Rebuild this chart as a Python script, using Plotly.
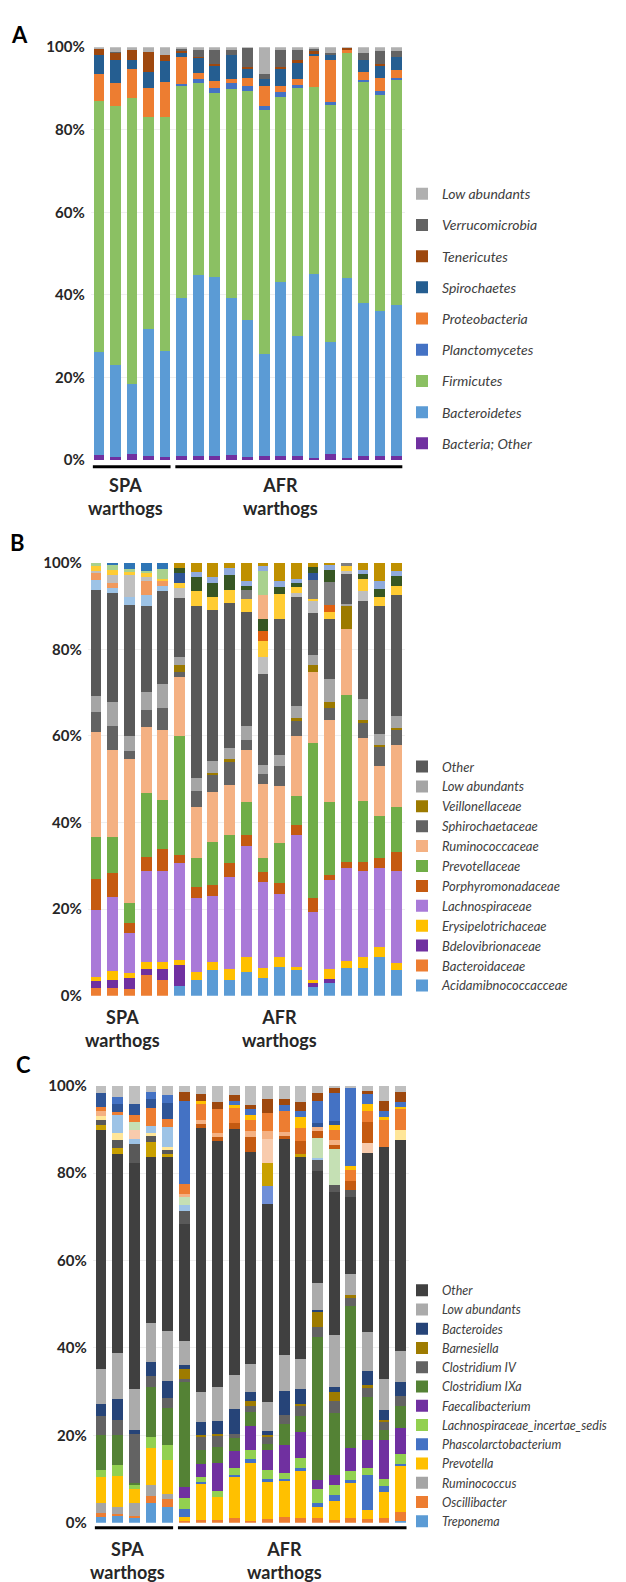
import plotly.graph_objects as go

W, H = 626, 1582

SAMPLES = ["SPA1", "SPA2", "SPA3", "SPA4", "SPA5",
           "AFR1", "AFR2", "AFR3", "AFR4", "AFR5", "AFR6", "AFR7",
           "AFR8", "AFR9", "AFR10", "AFR11", "AFR12", "AFR13", "AFR14"]

# ---------------- Panel A: phyla (%) ----------------
A_BACTERIA_OTHER = [1.3, 0.8, 1.5, 1.0, 0.8, 1.0, 0.9, 0.9, 1.2, 0.7, 0.9, 0.9, 0.9, 0.5, 1.5, 0.4, 1.0, 1.0, 1.0]
A_BACTEROIDETES = [24.8, 22.1, 17.0, 30.7, 25.6, 38.2, 43.8, 43.3, 38.0, 33.3, 24.8, 42.1, 29.1, 44.5, 27.1, 43.7, 37.0, 35.0, 36.6]
A_FIRMICUTES = [60.9, 62.9, 69.3, 51.3, 56.8, 51.4, 46.5, 44.8, 50.6, 55.4, 59.0, 45.0, 60.2, 45.4, 57.3, 54.5, 53.5, 52.5, 54.4]
A_PLANCTOMYCETES = [0, 0, 0, 0, 0, 0.4, 1.2, 1.2, 1.4, 1.2, 1.1, 1.1, 0.7, 0, 0.7, 0, 0.5, 1.0, 0.5]
A_PROTEOBACTERIA = [6.6, 5.6, 7.0, 7.2, 8.3, 6.6, 1.4, 1.6, 1.0, 2.0, 4.8, 1.5, 1.5, 7.6, 10.2, 0.8, 2.0, 3.0, 2.0]
A_SPIROCHAETES = [4.6, 5.6, 2.0, 3.8, 5.1, 1.0, 3.6, 3.6, 5.8, 2.2, 1.8, 4.2, 3.8, 0.3, 1.4, 0, 3.0, 3.0, 3.0]
A_TENERICUTES = [1.3, 1.6, 2.4, 4.8, 1.4, 0.6, 0.3, 0.5, 0, 0.3, 0, 0.3, 0.6, 0.7, 0, 0.4, 0, 0.5, 0]
A_VERRUCOMICROBIA = [0, 0.2, 0, 0, 0, 0.3, 1.7, 3.5, 1.4, 4.7, 1.0, 4.3, 2.6, 0.6, 0.3, 0, 1.5, 3.0, 1.5]
A_LOW_ABUNDANTS = [0.5, 1.2, 0.8, 1.2, 2.0, 0.5, 0.6, 0.6, 0.6, 0.2, 6.6, 0.6, 0.6, 0.4, 1.5, 0.2, 1.5, 1.0, 1.0]

# ---------------- Panel B: families (%) ----------------
B_ACIDAMINO = [0, 0, 0, 0, 0, 2.2, 3.6, 6.0, 3.6, 5.5, 4.0, 6.6, 6.0, 2.1, 3.0, 6.5, 6.5, 8.9, 6.0]
B_BACTEROIDACEAE = [1.7, 1.9, 1.5, 4.9, 3.7, 0, 0, 0, 0, 0, 0, 0, 0, 0, 0, 0, 0, 0, 0]
B_BDELOVIBRIONACEAE = [1.6, 1.7, 2.5, 1.3, 2.5, 5.0, 0, 0, 0, 0, 0, 0, 0, 1.1, 0.9, 0, 0, 0, 0]
B_ERYSIPELOTRICHACEAE = [1.0, 2.1, 1.3, 1.7, 1.6, 1.1, 1.9, 1.8, 2.6, 3.4, 2.4, 2.3, 0.6, 0.4, 2.3, 1.5, 2.4, 2.3, 1.5]
B_LACHNOSPIRACEAE = [15.4, 17.1, 9.1, 20.8, 20.9, 22.3, 17.1, 15.2, 21.3, 25.7, 19.9, 14.5, 30.5, 15.8, 20.6, 21.5, 19.9, 18.3, 21.3]
B_PORPHYROMONADACEAE = [7.3, 5.5, 2.5, 3.4, 5.3, 2.0, 2.4, 2.6, 3.1, 2.5, 2.2, 2.6, 2.4, 3.2, 1.1, 1.5, 2.2, 2.2, 4.5]
B_PREVOTELLACEAE = [9.7, 8.4, 4.6, 14.7, 11.2, 27.4, 6.9, 9.8, 6.6, 7.6, 3.4, 9.2, 6.7, 35.8, 16.8, 38.4, 14.0, 9.9, 10.2]
B_RUMINOCOCCACEAE = [24.3, 20.1, 33.2, 15.2, 16.2, 13.6, 11.6, 11.6, 11.4, 12.1, 17.0, 13.3, 13.7, 16.3, 19.0, 15.2, 14.5, 11.4, 14.5]
B_SPHIROCHAETACEAE = [4.6, 5.5, 1.8, 4.0, 5.0, 1.1, 3.8, 4.0, 5.4, 2.3, 2.2, 4.5, 3.8, 0, 2.7, 0, 3.4, 4.6, 3.3]
B_VEILLONELLACEAE = [0, 0, 0, 0, 0, 1.6, 0, 0.5, 0.6, 0, 0, 0, 0.4, 1.6, 1.5, 5.4, 0.8, 0.3, 0.5]
B_LOW_ABUNDANTS = [3.7, 5.6, 3.4, 4.2, 5.5, 1.9, 3.1, 2.7, 2.6, 3.1, 2.3, 2.7, 2.8, 2.5, 5.3, 0.5, 4.9, 2.6, 2.7]
B_OTHER = [24.5, 25.1, 30.3, 19.8, 21.6, 13.7, 39.6, 34.8, 33.5, 26.5, 21.0, 31.2, 25.1, 9.6, 13.7, 6.8, 22.5, 29.5, 28.1]
# minor (unlabelled) families stacked above "Other"
B_MINOR_SKY = [2.2, 1.2, 2.0, 2.6, 1.2, 0, 0, 0, 0, 0, 0, 0, 0, 0, 0, 0, 0, 0, 0]
B_MINOR_ORANGE = [1.6, 1.1, 0, 3.2, 1.0, 0, 0, 0, 0, 0, 0, 0, 0, 0, 0, 0, 0, 0, 0]
B_MINOR_LTGRAY = [0.5, 1.9, 5.0, 0.8, 0, 2.2, 0, 0, 0, 0, 3.8, 0, 1.1, 2.7, 0, 0.9, 2.4, 0, 0]
B_MINOR_YELLOW = [1.1, 1.1, 0.6, 1.0, 0.5, 1.2, 3.4, 3.2, 3.1, 3.0, 3.7, 5.9, 1.4, 0.6, 1.8, 1.0, 2.8, 2.2, 2.1]
B_MINOR_DKORANGE = [0, 0, 0, 0, 0, 0, 0, 0, 0, 0, 2.3, 0, 0, 0, 1.5, 0, 0, 0, 0]
B_MINOR_GRAY = [0, 0, 0, 0, 0, 0, 0, 0, 0, 2.1, 0, 0, 0, 4.3, 5.3, 0.8, 0, 0, 0]
B_MINOR_NAVY = [0, 0, 0, 0, 0, 2.3, 0, 0, 0, 0, 0, 0, 0, 1.6, 0, 0, 0, 0, 0]
B_MINOR_DKGREEN = [0, 0, 0, 0, 0, 1.1, 3.4, 3.1, 3.4, 0.9, 2.7, 1.7, 0.8, 1.3, 2.8, 0, 1.1, 1.8, 2.3]
B_MINOR_PEACH = [0, 0, 0, 0, 0, 0, 0, 0, 0, 0, 5.7, 0, 0, 0, 0, 0, 0, 0, 0]
B_MINOR_LTGREEN = [0.8, 1.2, 0.8, 0.6, 2.3, 0, 0, 0, 0, 0, 5.5, 0, 0, 0, 0, 0, 0, 0, 0]
B_MINOR_LTBLUE = [0, 0, 0, 0, 0, 0, 1.1, 1.5, 1.5, 1.0, 1.2, 1.2, 1.0, 0, 1.2, 0, 0.9, 1.8, 1.0]
B_MINOR_BLUE = [0, 0.5, 1.4, 1.8, 1.5, 0, 0, 0, 0, 0, 0, 0, 0, 0, 0, 0, 0, 0, 0]
B_MINOR_OLIVE = [0, 0, 0, 0, 0, 1.3, 2.1, 3.2, 1.3, 4.3, 0.7, 4.3, 3.7, 1.1, 0.5, 0, 1.7, 4.2, 2.0]

# ---------------- Panel C: genera (%) ----------------
C_TREPONEMA = [1.4, 1.6, 1.0, 4.6, 3.5, 0, 0, 0, 0, 0, 0, 0, 0, 0, 0, 0, 0, 0, 0.5]
C_OSCILLIBACTER = [0.9, 0.5, 0.6, 1.5, 1.9, 0.3, 0.6, 0.6, 1.1, 0.5, 0.8, 1.2, 1.1, 1.1, 0.6, 1.0, 0.8, 1.0, 2.0]
C_RUMINOCOCCUS = [2.1, 1.5, 2.8, 2.5, 1.1, 0, 0, 0, 0, 0, 0, 0, 0, 0, 0, 0, 0, 0, 0]
C_PREVOTELLA = [6.0, 7.0, 3.2, 8.6, 7.9, 1.1, 8.3, 5.3, 9.5, 13.2, 8.7, 8.5, 10.8, 2.4, 4.4, 8.0, 2.0, 6.0, 10.6]
C_PHASCOLARCTO = [0, 0, 0, 0, 0, 1.7, 0.5, 0, 0.4, 0.9, 0.4, 0.3, 0.6, 1.1, 1.4, 0.7, 8.2, 1.5, 0.3]
C_LACHNO_IS = [1.7, 2.7, 1.0, 2.5, 3.4, 2.6, 1.0, 1.3, 1.5, 2.1, 2.2, 1.4, 2.3, 3.0, 2.2, 2.1, 1.5, 1.4, 2.3]
C_FAECALIBACTERIUM = [0, 0, 0, 0, 0, 2.4, 3.0, 6.5, 3.8, 5.5, 4.6, 6.4, 6.0, 2.1, 2.4, 5.2, 6.4, 9.0, 6.0]
C_CLOSTRIDIUM_IXA = [8.0, 6.8, 0.5, 11.3, 8.4, 24.2, 3.3, 3.7, 3.0, 3.1, 1.2, 4.7, 3.6, 32.8, 14.2, 32.5, 9.8, 2.3, 5.0]
C_CLOSTRIDIUM_IV = [4.3, 3.4, 11.1, 2.6, 2.3, 0.6, 3.0, 2.7, 1.1, 1.5, 1.6, 2.1, 2.3, 2.3, 2.6, 1.9, 2.1, 2.0, 2.4]
C_BARNESIELLA = [0, 0, 0, 0, 0, 2.2, 0.4, 0.3, 0, 1.0, 0.6, 0, 0.5, 3.5, 2.2, 0.7, 0.6, 0.3, 0]
C_BACTEROIDES = [2.8, 4.9, 1.1, 3.1, 4.0, 0.9, 3.0, 2.8, 5.7, 2.1, 0.9, 5.6, 3.4, 0.4, 1.0, 0, 3.4, 2.2, 3.2]
C_LOW_ABUNDANTS = [7.9, 10.5, 9.2, 9.0, 11.3, 5.6, 6.8, 7.8, 7.7, 6.4, 6.6, 8.1, 6.8, 6.2, 12.0, 4.8, 8.8, 7.2, 7.0]
C_OTHER = [54.7, 45.5, 51.8, 37.9, 39.8, 26.7, 60.4, 56.3, 56.2, 48.6, 45.3, 49.5, 46.2, 25.5, 32.7, 17.6, 41.0, 53.1, 48.2]
# minor (unlabelled) genera stacked above "Other"
C_MINOR_BLUE2 = [0, 0, 0, 0, 0, 0, 0, 0, 0, 0, 4.1, 0, 0, 0, 0, 0, 0, 0, 0]
C_MINOR_GOLD = [1.3, 1.3, 0, 3.6, 0.7, 0, 0, 0, 0, 0, 5.3, 0, 0.7, 0, 0, 0, 0, 0, 0]
C_MINOR_DKGRAY = [1.0, 1.9, 4.3, 1.2, 0.9, 3.1, 0, 0, 0, 0, 0, 0, 0, 2.5, 1.5, 1.7, 0, 0, 0]
C_MINOR_LTYELLOW = [1.0, 1.5, 0, 0.8, 0.8, 0, 0, 0, 0, 0, 0, 0, 0, 0, 0, 0, 0, 0, 2.3]
C_MINOR_SKY = [0, 4.1, 1.3, 1.5, 4.5, 1.2, 0, 0, 0, 0, 0, 0, 0, 0.6, 0, 0, 0, 0, 0]
C_MINOR_PEACH = [0, 0, 1.9, 0, 0, 0, 0, 0, 0, 0, 5.5, 0, 0, 0, 0, 0, 2.3, 0, 0]
C_MINOR_LTGREEN = [0, 0, 1.9, 0, 0, 1.9, 0, 0, 0, 0, 0, 0, 0, 4.5, 8.4, 0, 0, 0, 0]
C_MINOR_DKORANGE = [0, 0, 0, 0, 0, 0, 1.0, 1.0, 1.5, 3.4, 0, 0.8, 3.0, 1.7, 0.8, 2.0, 4.8, 0, 0]
C_MINOR_LTORANGE = [1.1, 0, 0, 0, 0, 0.8, 0.8, 0.8, 0, 1.3, 1.9, 0.7, 0, 0.9, 1.1, 0, 0, 0, 0]
C_MINOR_ORANGE = [1.0, 0.8, 1.5, 4.1, 1.9, 2.1, 3.8, 5.6, 3.4, 2.5, 4.1, 4.9, 3.0, 0, 2.3, 2.5, 2.4, 6.1, 4.8]
C_MINOR_YELLOW = [0, 0, 0, 0, 0, 0, 0.7, 0, 0.8, 1.1, 0, 0, 2.5, 0, 1.2, 1.0, 1.7, 0.7, 0.5]
C_MINOR_NAVY = [3.1, 1.9, 2.7, 2.2, 3.6, 0, 0, 0, 0, 0, 0, 0, 0, 0.8, 1.0, 0, 0, 0, 0]
C_MINOR_BLUE = [0, 1.5, 0, 1.5, 1.9, 19.0, 0, 0, 0.7, 1.5, 0, 1.5, 1.5, 5.0, 6.4, 17.7, 2.3, 1.5, 1.1]
C_MINOR_BROWN = [0, 0, 0, 0, 0, 2.1, 1.5, 1.5, 1.5, 0.8, 3.1, 1.2, 1.9, 1.9, 1.1, 0, 0.8, 2.3, 2.4]
C_MINOR_LTGRAY = [1.7, 2.6, 4.1, 1.5, 2.1, 1.5, 1.9, 3.8, 2.1, 4.5, 3.1, 3.1, 3.8, 1.7, 0.5, 0.6, 1.1, 3.4, 1.4]

Y_TICKS = [0, 20, 40, 60, 80, 100]
Y_TICK_TEXT = ["0%", "20%", "40%", "60%", "80%", "100%"]
GROUP_LABELS = ["SPA<br>warthogs", "AFR<br>warthogs"]

# (legend label, values, colour, shown in legend) - bottom of stack first
PANEL_A = [
    ("Bacteria; Other", A_BACTERIA_OTHER, "#7030A0", True),
    ("Bacteroidetes", A_BACTEROIDETES, "#5B9BD5", True),
    ("Firmicutes", A_FIRMICUTES, "#8BC063", True),
    ("Planctomycetes", A_PLANCTOMYCETES, "#4472C4", True),
    ("Proteobacteria", A_PROTEOBACTERIA, "#ED7D31", True),
    ("Spirochaetes", A_SPIROCHAETES, "#255E91", True),
    ("Tenericutes", A_TENERICUTES, "#9E480E", True),
    ("Verrucomicrobia", A_VERRUCOMICROBIA, "#636363", True),
    ("Low abundants", A_LOW_ABUNDANTS, "#B0B0B0", True),
]
PANEL_B = [
    ("Acidamibnococcacceae", B_ACIDAMINO, "#5B9BD5", True),
    ("Bacteroidaceae", B_BACTEROIDACEAE, "#ED7D31", True),
    ("Bdelovibrionaceae", B_BDELOVIBRIONACEAE, "#7030A0", True),
    ("Erysipelotrichaceae", B_ERYSIPELOTRICHACEAE, "#FFC000", True),
    ("Lachnospiraceae", B_LACHNOSPIRACEAE, "#A97AD8", True),
    ("Porphyromonadaceae", B_PORPHYROMONADACEAE, "#C55A11", True),
    ("Prevotellaceae", B_PREVOTELLACEAE, "#70AD47", True),
    ("Ruminococcaceae", B_RUMINOCOCCACEAE, "#F4B183", True),
    ("Sphirochaetaceae", B_SPHIROCHAETACEAE, "#636363", True),
    ("Veillonellaceae", B_VEILLONELLACEAE, "#9C7A00", True),
    ("Low abundants", B_LOW_ABUNDANTS, "#A5A5A5", True),
    ("Other", B_OTHER, "#595959", True),
    ("b1", B_MINOR_SKY, "#9DC3E6", False),
    ("b2", B_MINOR_ORANGE, "#F19A5E", False),
    ("b3", B_MINOR_LTGRAY, "#BFBFBF", False),
    ("b4", B_MINOR_YELLOW, "#FFCC33", False),
    ("b5", B_MINOR_DKORANGE, "#E06010", False),
    ("b6", B_MINOR_GRAY, "#7F7F7F", False),
    ("b7", B_MINOR_NAVY, "#2F5597", False),
    ("b8", B_MINOR_DKGREEN, "#375623", False),
    ("b9", B_MINOR_PEACH, "#F4B183", False),
    ("b10", B_MINOR_LTGREEN, "#A9D18E", False),
    ("b11", B_MINOR_LTBLUE, "#8FAADC", False),
    ("b12", B_MINOR_BLUE, "#2E75B6", False),
    ("b13", B_MINOR_OLIVE, "#BF9000", False),
]
PANEL_C = [
    ("Treponema", C_TREPONEMA, "#5B9BD5", True),
    ("Oscillibacter", C_OSCILLIBACTER, "#ED7D31", True),
    ("Ruminococcus", C_RUMINOCOCCUS, "#A5A5A5", True),
    ("Prevotella", C_PREVOTELLA, "#FFC000", True),
    ("Phascolarctobacterium", C_PHASCOLARCTO, "#4472C4", True),
    ("Lachnospiraceae_incertae_sedis", C_LACHNO_IS, "#92D050", True),
    ("Faecalibacterium", C_FAECALIBACTERIUM, "#7030A0", True),
    ("Clostridium IXa", C_CLOSTRIDIUM_IXA, "#548235", True),
    ("Clostridium IV", C_CLOSTRIDIUM_IV, "#636363", True),
    ("Barnesiella", C_BARNESIELLA, "#9E7B00", True),
    ("Bacteroides", C_BACTEROIDES, "#264478", True),
    ("Low abundants", C_LOW_ABUNDANTS, "#ABABAB", True),
    ("Other", C_OTHER, "#404040", True),
    ("c1", C_MINOR_BLUE2, "#6F8FD8", False),
    ("c2", C_MINOR_GOLD, "#C9A000", False),
    ("c3", C_MINOR_DKGRAY, "#595959", False),
    ("c4", C_MINOR_LTYELLOW, "#FFE699", False),
    ("c5", C_MINOR_SKY, "#9DC3E6", False),
    ("c6", C_MINOR_PEACH, "#F8CBAD", False),
    ("c7", C_MINOR_LTGREEN, "#C5E0B4", False),
    ("c8", C_MINOR_DKORANGE, "#C55A11", False),
    ("c9", C_MINOR_LTORANGE, "#F4B183", False),
    ("c10", C_MINOR_ORANGE, "#ED7D31", False),
    ("c11", C_MINOR_YELLOW, "#FFC000", False),
    ("c12", C_MINOR_NAVY, "#2F5597", False),
    ("c13", C_MINOR_BLUE, "#4472C4", False),
    ("c14", C_MINOR_BROWN, "#9E480E", False),
    ("c15", C_MINOR_LTGRAY, "#BFBFBF", False),
]

FONT = "Lato"
TXT = "#262626"


def py(px):
    return 1 - px / H


def px_x(px):
    return px / W


fig = go.Figure()

panels = [
    # series, axis suffix, legend id, x-domain px, y-domain px (bottom, top)
    (PANEL_A, "", "legend", (82.7, 396.8), (447, 29.5)),
    (PANEL_B, "2", "legend2", (79.7, 396.8), (989, 551)),
    (PANEL_C, "3", "legend3", (84.7, 401.0), (1522, 1080)),
]

for series, sfx, leg, xd, yd in panels:
    for i, (name, vals, color, show) in enumerate(series):
        fig.add_trace(go.Bar(
            x=SAMPLES, y=vals, name=name,
            marker=dict(color=color, line=dict(width=0)),
            xaxis="x" + sfx, yaxis="y" + sfx,
            legend=leg, legendgroup=leg + name, legendrank=1000 - i,
            showlegend=show, hoverinfo="name+y",
        ))
    fig.layout["xaxis" + sfx] = dict(
        domain=[px_x(xd[0]), px_x(xd[1])], anchor="y" + sfx,
        showticklabels=False, showline=False, showgrid=False, zeroline=False,
        ticks="", range=[-0.5, len(SAMPLES) - 0.5],
    )
    fig.layout["yaxis" + sfx] = dict(
        domain=[py(yd[0]), py(yd[1])], anchor="x" + sfx,
        range=[0, 100], tickmode="array", tickvals=Y_TICKS, ticktext=Y_TICK_TEXT,
        showgrid=True, gridcolor="#EFEFEF", gridwidth=1,
        zeroline=False, showline=False, ticks="",
        ticklabelstandoff=5,
        tickfont=dict(family=FONT, size=15, color=TXT, weight="bold"),
    )

legend_common = dict(
    traceorder="grouped", bgcolor="rgba(0,0,0,0)",
    xanchor="left", yanchor="top", itemclick=False, itemdoubleclick=False,
)
fig.update_layout(
    legend=dict(x=px_x(394), y=py(162), tracegroupgap=10,
                font=dict(family=FONT, size=14, color="#404040", style="italic"),
                **legend_common),
    legend2=dict(x=px_x(394), y=py(742), tracegroupgap=0,
                 font=dict(family=FONT, size=13, color="#404040", style="italic"),
                 **legend_common),
    legend3=dict(x=px_x(394), y=py(1272), tracegroupgap=0,
                 font=dict(family=FONT, size=12.5, color="#404040", style="italic"),
                 **legend_common),
)

shapes = []
annotations = []
# underlines (panels A and C) and group labels
for sfx, line_px, label_px in [("", 454, 484), ("2", None, 1022), ("3", 1527, 1560)]:
    xr = "x" + sfx
    if line_px is not None:
        for x0, x1 in [(-0.37, 4.33), (4.62, 18.35)]:
            shapes.append(dict(type="line", xref=xr, yref="paper", x0=x0, x1=x1,
                               y0=py(line_px), y1=py(line_px),
                               line=dict(color="black", width=3)))
    for xc, txt in [(1.6, GROUP_LABELS[0]), (11.0, GROUP_LABELS[1])]:
        annotations.append(dict(xref=xr, yref="paper", x=xc, y=py(label_px),
                                text=txt, showarrow=False, xanchor="center", yanchor="middle",
                                font=dict(family=FONT, size=18, color=TXT, weight="bold")))

for letter, xpx, ypx in [("A", 11, 16.5), ("B", 9, 531), ("C", 15, 1059)]:
    annotations.append(dict(xref="paper", yref="paper", x=px_x(xpx), y=py(ypx), text=letter,
                            showarrow=False, xanchor="center", yanchor="middle",
                            font=dict(family=FONT, size=22, color="black", weight="bold")))

fig.update_layout(
    width=W, height=H, margin=dict(l=0, r=0, t=0, b=0),
    paper_bgcolor="white", plot_bgcolor="white",
    barmode="stack", bargap=0.35,
    shapes=shapes, annotations=annotations,
    font=dict(family=FONT, color=TXT),
)

fig.write_html("out.html")
